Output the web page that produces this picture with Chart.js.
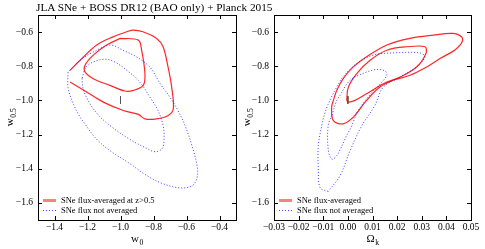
<!DOCTYPE html>
<html>
<head>
<meta charset="utf-8">
<script src="https://cdn.jsdelivr.net/npm/chart.js@4.4.0/dist/chart.umd.min.js"></script>
<style>
  body { margin:0; background:#fff; }
  #wrap { position:relative; width:485px; height:249px; overflow:hidden; }
  canvas { position:absolute; top:0; }
  #titulo { position:absolute; left:36px; top:0px; font:11.3px "Liberation Serif", serif; white-space:nowrap; line-height:14px; color:#000; }
</style>
</head>
<body>
<div id="wrap">
  <canvas id="izq" width="240" height="249" style="left:0;width:240px;height:249px"></canvas>
  <canvas id="der" width="245" height="249" style="left:240px;width:245px;height:249px"></canvas>
  <div id="titulo">JLA SNe + BOSS DR12 (BAO only) + Planck 2015</div>
</div>
<script>
// ticks
const w0Ticks = [-1.4, -1.2, -1.0, -0.8, -0.6, -0.4];
const okTicks = [-0.03, -0.02, -0.01, 0.00, 0.01, 0.02, 0.03, 0.04, 0.05];
const wTicks = [-1.6, -1.4, -1.2, -1.0, -0.8, -0.6];

// panel izquierdo: w0 vs w0.5  [x, y]
const izqRojoExt = [[-1.306,-0.824],[-1.245,-0.765],[-1.144,-0.676],[-1.045,-0.628],[-0.962,-0.598],[-0.922,-0.588],[-0.864,-0.598],[-0.781,-0.637],[-0.742,-0.686],[-0.712,-0.804],[-0.690,-0.922],[-0.680,-1.049],[-0.710,-1.088],[-0.781,-1.108],[-0.852,-1.108],[-0.892,-1.082],[-0.983,-1.059],[-1.104,-1.010],[-1.205,-0.951],[-1.306,-0.892]];
const izqRojoInt = [[-1.003,-0.637],[-0.892,-0.647],[-0.872,-0.706],[-0.852,-0.843],[-0.862,-0.912],[-0.922,-0.941],[-0.973,-0.945],[-1.064,-0.912],[-1.165,-0.873],[-1.215,-0.833],[-1.215,-0.794],[-1.165,-0.735],[-1.084,-0.676],[-1.003,-0.637]];
const izqAzulExt = [[-1.318,-0.835],[-1.318,-0.924],[-1.294,-1.0],[-1.258,-1.076],[-1.209,-1.147],[-1.148,-1.224],[-1.064,-1.294],[-0.942,-1.371],[-0.839,-1.441],[-0.742,-1.488],[-0.639,-1.512],[-0.567,-1.5],[-0.536,-1.453],[-0.536,-1.382],[-0.567,-1.265],[-0.609,-1.147],[-0.652,-1.059],[-0.7,-0.982],[-0.761,-0.9],[-0.821,-0.806],[-0.9,-0.747],[-0.985,-0.706],[-1.064,-0.676],[-1.167,-0.718],[-1.245,-0.765],[-1.318,-0.835]];
const izqAzulInt = [[-1.233,-0.871],[-1.227,-0.929],[-1.203,-0.988],[-1.148,-1.071],[-1.064,-1.147],[-0.942,-1.229],[-0.839,-1.282],[-0.791,-1.3],[-0.748,-1.282],[-0.736,-1.224],[-0.742,-1.147],[-0.773,-1.059],[-0.821,-0.982],[-0.882,-0.894],[-0.961,-0.824],[-1.033,-0.776],[-1.088,-0.759],[-1.155,-0.771],[-1.209,-0.806],[-1.233,-0.871]];
const izqFiducial = [[-1.0,-0.975],[-1.0,-1.02]];

// panel derecho: Omega_k vs w0.5
const derRojoExt = [[-0.0059,-1.0],[-0.0045,-0.941],[-0.0019,-0.872],[0.0022,-0.804],[0.0076,-0.745],[0.0158,-0.676],[0.0252,-0.637],[0.0347,-0.618],[0.0428,-0.608],[0.0466,-0.637],[0.0442,-0.696],[0.0374,-0.755],[0.032,-0.804],[0.0252,-0.853],[0.0184,-0.882],[0.013,-0.922],[0.0076,-1.0],[0.0022,-1.098],[-0.0019,-1.137],[-0.0059,-1.118],[-0.0066,-1.039],[-0.0059,-1.0]];
const derRojoInt = [[-0.0005,-1.0],[0.0002,-0.922],[0.0036,-0.843],[0.009,-0.765],[0.0158,-0.706],[0.0239,-0.686],[0.0313,-0.686],[0.0317,-0.725],[0.0279,-0.804],[0.0212,-0.863],[0.0144,-0.902],[0.0076,-0.961],[0.0029,-1.0],[0.0002,-1.01],[-0.0005,-1.0]];
const derAzulExt = [[-0.008,-1.533],[-0.0113,-1.51],[-0.012,-1.4],[-0.012,-1.265],[-0.0106,-1.147],[-0.0093,-1.071],[-0.0073,-1.0],[-0.0048,-0.929],[-0.002,-0.863],[0.0036,-0.784],[0.0103,-0.735],[0.0183,-0.722],[0.0293,-0.722],[0.0313,-0.745],[0.0279,-0.804],[0.0212,-0.863],[0.0144,-0.922],[0.011,-1.029],[0.0057,-1.147],[0.0009,-1.294],[-0.0032,-1.441],[-0.008,-1.533]];
const derAzulInt = [[-0.0065,-1.088],[-0.008,-1.147],[-0.008,-1.284],[-0.0066,-1.343],[-0.0045,-1.324],[-0.0005,-1.206],[0.0016,-1.147],[0.0042,-1.059],[0.0098,-0.953],[0.013,-0.906],[0.0158,-0.853],[0.0151,-0.828],[0.0117,-0.819],[0.0076,-0.834],[0.0009,-0.882],[-0.0032,-0.971],[-0.0045,-1.0],[-0.0065,-1.088]];
const derFiducial = [[0.0,-0.975],[0.0,-1.02]];

const ROJO = 'rgba(255,0,0,0.85)';
const AZUL = 'rgba(30,30,255,0.85)';
const FUENTE = 'Liberation Serif';

function fmt(v, d){
  let s = Math.abs(v).toFixed(d);
  return (v < -1e-9 ? '\u2212' : '') + s;
}

function capa(pts, color, dash, ancho, tension){
  return {
    data: pts.map(p => ({x: p[0], y: p[1]})),
    showLine: true, borderColor: color, borderWidth: ancho, borderDash: dash,
    pointRadius: 0, tension: tension, fill: false
  };
}

function subindice(ctx, main, sub, x, y, size){
  ctx.font = size + 'px "' + FUENTE + '"';
  let w1 = ctx.measureText(main).width;
  ctx.font = (size*0.7) + 'px "' + FUENTE + '"';
  let w2 = ctx.measureText(sub).width;
  let x0 = x - (w1 + w2)/2;
  ctx.textAlign = 'left';
  ctx.textBaseline = 'alphabetic';
  ctx.font = size + 'px "' + FUENTE + '"';
  ctx.fillText(main, x0, y + size*0.3);
  ctx.font = (size*0.7) + 'px "' + FUENTE + '"';
  ctx.fillText(sub, x0 + w1 + 0.5, y + size*0.55);
}

const marco = {
  id: 'marco',
  afterDraw(chart, args, opts){
    const ctx = chart.ctx, a = chart.chartArea;
    const sx = chart.scales.x, sy = chart.scales.y;
    ctx.save();
    ctx.strokeStyle = '#000';
    ctx.lineWidth = 1;
    ctx.setLineDash([]);
    const L = Math.round(a.left), R = Math.round(a.right), T = Math.round(a.top), B = Math.round(a.bottom);
    ctx.strokeRect(L + 0.5, T + 0.5, R - L, B - T);
    ctx.beginPath();
    sx.ticks.forEach(t => {
      let x = Math.round(sx.getPixelForValue(t.value)) + 0.5;
      ctx.moveTo(x, B); ctx.lineTo(x, B - 4);
      ctx.moveTo(x, T); ctx.lineTo(x, T + 4);
    });
    sy.ticks.forEach(t => {
      let y = Math.round(sy.getPixelForValue(t.value)) + 0.5;
      ctx.moveTo(L, y); ctx.lineTo(L + 4, y);
      ctx.moveTo(R, y); ctx.lineTo(R - 4, y);
    });
    ctx.stroke();

    // leyenda
    let y1 = B - 19.5, y2 = B - 9.5;
    ctx.strokeStyle = 'rgba(255,0,0,0.5)';
    ctx.lineWidth = 3;
    ctx.beginPath(); ctx.moveTo(L + 5, y1); ctx.lineTo(L + 18, y1); ctx.stroke();
    ctx.strokeStyle = AZUL;
    ctx.lineWidth = 1;
    ctx.setLineDash([1, 2]);
    ctx.beginPath(); ctx.moveTo(L + 5, y2); ctx.lineTo(L + 19, y2); ctx.stroke();
    ctx.setLineDash([]);
    ctx.fillStyle = '#000';
    ctx.font = '8.5px "' + FUENTE + '"';
    ctx.textAlign = 'left';
    ctx.textBaseline = 'middle';
    ctx.fillText(opts.leyenda[0], L + 23, y1 + 0.5);
    ctx.fillText(opts.leyenda[1], L + 23, y2 + 0.5);

    // titulos de ejes
    subindice(ctx, opts.xMain, opts.xSub, (a.left + a.right)/2, 239, 11);
    ctx.save();
    ctx.translate(opts.yTituloX, (a.top + a.bottom)/2);
    ctx.rotate(-Math.PI/2);
    subindice(ctx, 'w', '0.5', 0, 0, 11);
    ctx.restore();
    ctx.restore();
  }
};

function opciones(xmin, xmax, xticks, dec, anchoY, padDer, extra){
  return {
    responsive: false,
    animation: false,
    layout: { padding: { top: 15, right: padDer, left: 0, bottom: 0 } },
    plugins: { legend: { display: false }, tooltip: { enabled: false }, marco: extra },
    scales: {
      x: {
        type: 'linear', min: xmin, max: xmax,
        grid: { display: false, drawTicks: false }, border: { display: false },
        afterBuildTicks: s => { s.ticks = xticks.map(v => ({value: v})); },
        afterFit: s => { s.height = 29; },
        ticks: { font: { family: FUENTE, size: 9.5 }, color: '#000', padding: 2, maxRotation: 0, autoSkip: false,
                 callback: v => fmt(v, dec) }
      },
      y: {
        type: 'linear', min: -1.7, max: -0.5,
        grid: { display: false, drawTicks: false }, border: { display: false },
        afterBuildTicks: s => { s.ticks = wTicks.map(v => ({value: v})); },
        afterFit: s => { s.width = anchoY; },
        ticks: { font: { family: FUENTE, size: 9.5 }, color: '#000', padding: 5, autoSkip: false,
                 callback: v => fmt(v, 1) }
      }
    }
  };
}

new Chart(document.getElementById('izq'), {
  type: 'scatter',
  data: { datasets: [
    capa(izqAzulExt, AZUL, [1, 2], 1, 0.35),
    capa(izqAzulInt, AZUL, [1, 2], 1, 0.35),
    capa(izqRojoExt, ROJO, [], 1.2, 0.35),
    capa(izqRojoInt, ROJO, [], 1.2, 0.35),
    capa(izqFiducial, '#555', [], 1, 0)
  ]},
  options: opciones(-1.5, -0.3, w0Ticks, 1, 38, 4,
    { leyenda: ['SNe flux-averaged at z>0.5', 'SNe flux not averaged'], xMain: 'w', xSub: '0', yTituloX: 10 }),
  plugins: [marco]
});

new Chart(document.getElementById('der'), {
  type: 'scatter',
  data: { datasets: [
    capa(derAzulExt, AZUL, [1, 2], 1, 0.35),
    capa(derAzulInt, AZUL, [1, 2], 1, 0.35),
    capa(derRojoExt, ROJO, [], 1.2, 0.35),
    capa(derRojoInt, ROJO, [], 1.2, 0.35),
    capa(derFiducial, '#555', [], 1, 0)
  ]},
  options: opciones(-0.03, 0.05, okTicks, 2, 34, 14,
    { leyenda: ['SNe flux-averaged', 'SNe flux not averaged'], xMain: '\u03A9', xSub: 'k', yTituloX: 7 }),
  plugins: [marco]
});
</script>
</body>
</html>
